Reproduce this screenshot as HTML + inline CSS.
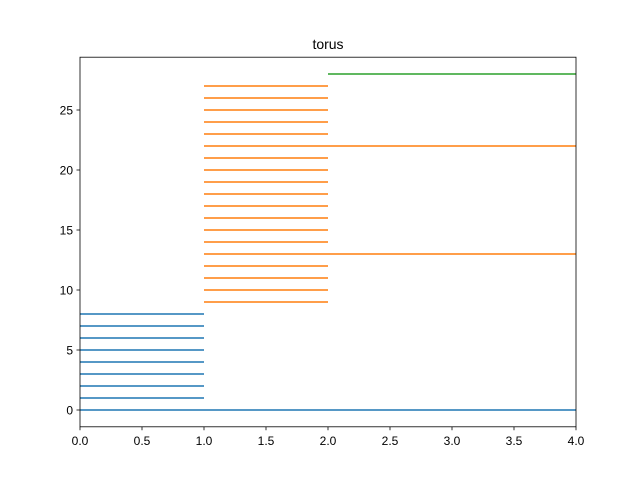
<!DOCTYPE html>
<html><head><meta charset="utf-8"><style>
body{margin:0;background:#fff;}
svg text{font-family:"Liberation Sans","DejaVu Sans",sans-serif;}
</style></head><body>
<svg id="chart" width="640" height="480" xmlns="http://www.w3.org/2000/svg">
<rect width="640" height="480" fill="#fff"/>
<text x="328" y="49" text-anchor="middle" font-size="14">torus</text>
<g id="bars"></g>
<g id="axes"></g>
</svg>
<script>
const barStarts = [0,0,0,0,0,0,0,0,0, 1,1,1,1,1,1,1,1,1,1,1,1,1,1,1,1,1,1,1, 2];
const barEnds   = [4,1,1,1,1,1,1,1,1, 2,2,2,2,4,2,2,2,2,2,2,2,2,4,2,2,2,2,2, 4];
const barLevels = [0,1,2,3,4,5,6,7,8, 9,10,11,12,13,14,15,16,17,18,19,20,21,22,23,24,25,26,27, 28];
const barDims   = [0,0,0,0,0,0,0,0,0, 1,1,1,1,1,1,1,1,1,1,1,1,1,1,1,1,1,1,1, 2];
const xTicks = [0,0.5,1,1.5,2,2.5,3,3.5,4];
const xTickLabels = ["0.0","0.5","1.0","1.5","2.0","2.5","3.0","3.5","4.0"];
const yTicks = [0,5,10,15,20,25];
const yTickLabels = ["0","5","10","15","20","25"];

const L=80,R=576,T=57.2,B=426.8;
const xMin=0,xMax=4,yMin=-1.4,yMax=29.4;
const colors=["#1f77b4","#ff7f0e","#2ca02c"];
const X=v=>L+(v-xMin)/(xMax-xMin)*(R-L);
const Y=v=>B-(v-yMin)/(yMax-yMin)*(B-T);
const NS="http://www.w3.org/2000/svg";
function mk(tag,attrs,parent){const e=document.createElementNS(NS,tag);for(const k in attrs)e.setAttribute(k,attrs[k]);parent.appendChild(e);return e;}
const bars=document.getElementById('bars'),axes=document.getElementById('axes');
barLevels.forEach((lv,i)=>{
  const l=mk('line',{x1:X(barStarts[i]),x2:X(barEnds[i]),y1:Y(lv),y2:Y(lv),stroke:colors[barDims[i]],'stroke-width':1.5},bars);
  
  
});
const frame=mk('rect',{x:L,y:T,width:R-L,height:B-T,fill:'none',stroke:'#000','stroke-width':0.8},axes);


xTicks.forEach((v,i)=>{
  mk('line',{x1:X(v),x2:X(v),y1:B,y2:B+3.5,stroke:'#000','stroke-width':0.8},axes);
  const t=mk('text',{x:X(v),y:B+18,'text-anchor':'middle','font-size':12},axes);
  t.textContent=xTickLabels[i];
  
  
});
yTicks.forEach((v,i)=>{
  mk('line',{x1:L-3.5,x2:L,y1:Y(v),y2:Y(v),stroke:'#000','stroke-width':0.8},axes);
  const t=mk('text',{x:L-7,y:Y(v)+4.5,'text-anchor':'end','font-size':12},axes);
  t.textContent=yTickLabels[i];
  
  
});
</script>
</body></html>
